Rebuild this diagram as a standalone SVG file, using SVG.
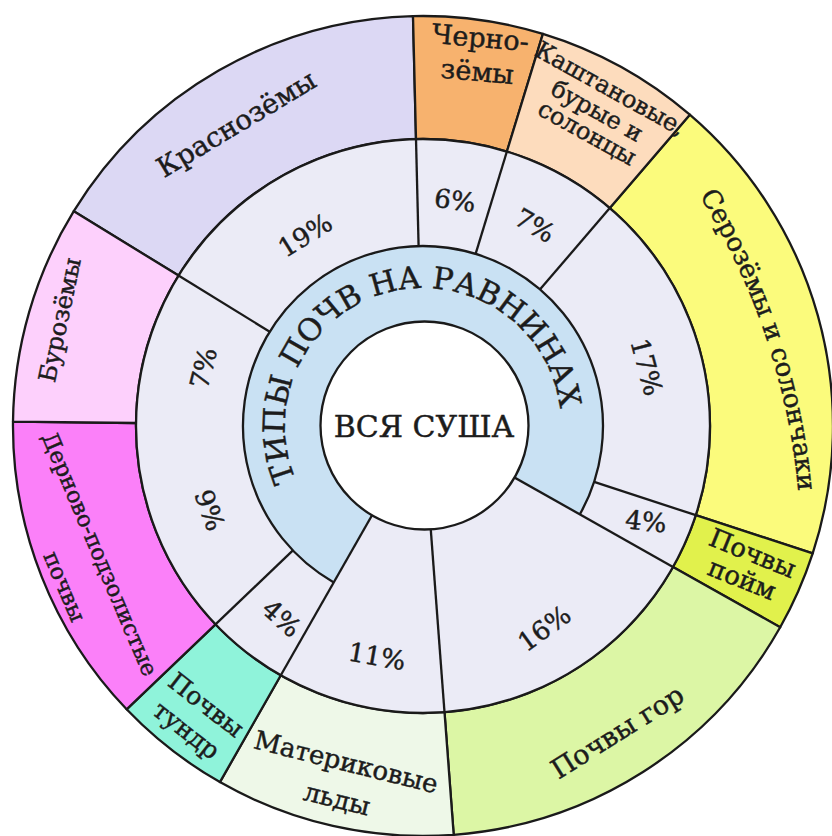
<svg xmlns="http://www.w3.org/2000/svg" width="832" height="836" viewBox="0 0 832 836">
<style>
.seg{stroke:#1a1a1a;stroke-width:2.3;stroke-linejoin:round}
.ln{stroke:#1a1a1a;stroke-width:2.3;fill:none}
text{font-family:"DejaVu Serif","Liberation Serif",serif;fill:#1c1c1c;stroke:#1c1c1c;stroke-width:0.45;text-anchor:middle}
.pc{font-size:26px}
.ol{font-size:26px}
</style>
<defs>
<path id="bluePath" d="M 293.3,473.2 A 138 138 0 1 1 558.9,402.0"/>
<path id="seroPath" d="M 677.4,149.0 A 689 689 0 0 1 808.9,542.0"/>
</defs>
<rect width="832" height="836" fill="#ffffff"/>

<g id="outer-ring">
<g id="krasnozemy"><path class="seg" fill="#dcd8f4" d="M 73.8,211.2 A 410 410 0 0 1 413.0,16.1 L 416.0,139.1 A 287 287 0 0 0 178.5,275.6 Z"/>
<text style="font-size:27.5px" transform="translate(237,125) rotate(-31)" y="8">Краснозёмы</text></g>
<g id="chernozemy"><path class="seg" fill="#f7b26e" d="M 413.0,16.1 A 410 410 0 0 1 542.9,33.9 L 506.9,151.5 A 287 287 0 0 0 416.0,139.1 Z"/>
<text style="font-size:27px" transform="translate(478,64) rotate(5)"><tspan x="0" y="-17">Черно-</tspan><tspan x="0" y="17">зёмы</tspan></text></g>
<g id="serozemy"><path class="seg" fill="#fbfb7c" d="M 689.8,114.7 A 410 410 0 0 1 812.7,553.4 L 695.8,515.2 A 287 287 0 0 0 609.8,208.1 Z"/>
<text class="ol" dy="0.3em"><textPath href="#seroPath" startOffset="50%">Серозёмы и солончаки</textPath></text></g>
<g id="kashtanovye"><path class="seg" fill="#fddcbd" d="M 542.9,33.9 A 410 410 0 0 1 689.8,114.7 L 609.8,208.1 A 287 287 0 0 0 506.9,151.5 Z"/>
<text style="font-size:24px" transform="translate(597,111) rotate(29)"><tspan x="1" y="-18">Каштановые,</tspan><tspan x="0" y="8">бурые и</tspan><tspan x="2" y="32">солонцы</tspan></text></g>
<g id="pochvy-poym"><path class="seg" fill="#e1f14c" d="M 812.7,553.4 A 410 410 0 0 1 780.2,627.3 L 673.0,566.9 A 287 287 0 0 0 695.8,515.2 Z"/>
<text style="font-size:26px" transform="translate(747,567) rotate(22)"><tspan x="0" y="-6">Почвы</tspan><tspan x="0" y="22">пойм</tspan></text></g>
<g id="pochvy-gor"><path class="seg" fill="#dcf6a5" d="M 780.2,627.3 A 410 410 0 0 1 453.7,834.8 L 444.5,712.2 A 287 287 0 0 0 673.0,566.9 Z"/>
<text style="font-size:27px" transform="translate(618,733) rotate(-32)" y="8">Почвы гор</text></g>
<g id="materikovye-ldy"><path class="seg" fill="#eef8e8" d="M 453.7,834.8 A 410 410 0 0 1 219.9,782.1 L 280.8,675.3 A 287 287 0 0 0 444.5,712.2 Z"/>
<text class="ol" transform="translate(346,763) rotate(14)"><tspan x="0" y="8">Материковые</tspan><tspan x="0" y="46">льды</tspan></text></g>
<g id="pochvy-tundr"><path class="seg" fill="#8ff3da" d="M 219.9,782.1 A 410 410 0 0 1 126.6,709.3 L 215.5,624.3 A 287 287 0 0 0 280.8,675.3 Z"/>
<text style="font-size:25px" transform="translate(196,718) rotate(38)"><tspan x="0" y="-8">Почвы</tspan><tspan x="0" y="24">тундр</tspan></text></g>
<g id="dernovo-podzolistye"><path class="seg" fill="#fb80f9" d="M 126.6,709.3 A 410 410 0 0 1 13.0,421.7 L 136.0,423.0 A 287 287 0 0 0 215.5,624.3 Z"/>
<text style="font-size:22.5px" transform="translate(100,554) rotate(67)"><tspan x="0" y="8">Дерново-подзолистые</tspan><tspan x="16" y="53">почвы</tspan></text></g>
<g id="burozemy"><path class="seg" fill="#fdd0fc" d="M 13.0,421.7 A 410 410 0 0 1 73.8,211.2 L 178.5,275.6 A 287 287 0 0 0 136.0,423.0 Z"/>
<text style="font-size:24px" transform="translate(60,320) rotate(-78)" y="8">Бурозёмы</text></g>
</g>

<g id="percent-ring">
<circle class="seg" cx="423" cy="426" r="287" fill="#ebebf6"/>
</g>

<g id="plains-ring">
<path fill="#c9e1f3" d="M 333.8,582.4 A 180 180 0 1 1 579.8,514.4 L 508.4,474.1 A 98 98 0 1 0 374.4,511.1 Z"/>
<path class="ln" d="M 333.8,582.4 A 180 180 0 1 1 579.8,514.4"/>
</g>

<g id="separators">
<line class="ln" x1="418.6" y1="246.1" x2="416.0" y2="139.1"/>
<line class="ln" x1="475.6" y1="253.9" x2="506.9" y2="151.5"/>
<line class="ln" x1="540.1" y1="289.3" x2="609.8" y2="208.1"/>
<line class="ln" x1="594.1" y1="481.9" x2="695.8" y2="515.2"/>
<line class="ln" x1="505.8" y1="472.6" x2="673.0" y2="566.9"/>
<line class="ln" x1="430.1" y1="520.7" x2="444.5" y2="712.2"/>
<line class="ln" x1="375.9" y1="508.5" x2="280.8" y2="675.3"/>
<line class="ln" x1="292.9" y1="550.4" x2="215.5" y2="624.3"/>
<line class="ln" x1="269.7" y1="331.7" x2="178.5" y2="275.6"/>
</g>

<g id="center">
<circle class="seg" cx="424.5" cy="425.5" r="104" fill="#ffffff"/>
<text style="font-size:30px" x="424" y="437">ВСЯ СУША</text>
</g>

<g id="plains-label">
<text style="font-size:30.5px"><textPath href="#bluePath" startOffset="50%">ТИПЫ ПОЧВ НА РАВНИНАХ</textPath></text>
</g>

<g id="percents">
<text class="pc" transform="translate(305,235) rotate(-32)" y="9.5">19%</text>
<text class="pc" transform="translate(455,200) rotate(8)" y="9.5">6%</text>
<text class="pc" transform="translate(535,225) rotate(30)" y="9.5">7%</text>
<text class="pc" transform="translate(647,367) rotate(75)" y="9.5">17%</text>
<text class="pc" transform="translate(646,521) rotate(6)" y="9.5">4%</text>
<text class="pc" transform="translate(544,628) rotate(-36)" y="9.5">16%</text>
<text class="pc" transform="translate(377,656) rotate(10)" y="9.5">11%</text>
<text class="pc" transform="translate(282,618) rotate(42)" y="9.5">4%</text>
<text class="pc" transform="translate(210,510) rotate(70)" y="9.5">9%</text>
<text class="pc" transform="translate(203,368) rotate(-76)" y="9.5">7%</text>
</g>
</svg>
